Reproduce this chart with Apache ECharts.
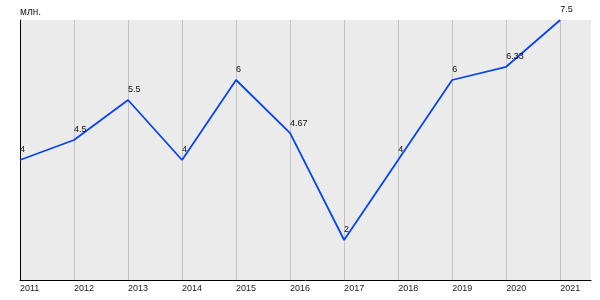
<!DOCTYPE html>
<html>
<head>
<meta charset="utf-8">
<script src="https://cdn.jsdelivr.net/npm/echarts@6/dist/echarts.min.js"></script>
<style>html,body{margin:0;padding:0;background:#fff}#c{width:600px;height:300px}</style>
</head>
<body>
<div id="c"></div>
<script>
const years = [2011, 2012, 2013, 2014, 2015, 2016, 2017, 2018, 2019, 2020, 2021];
const values = [4, 4.5, 5.5, 4, 6, 4.67, 2, 4, 6, 6.33, 7.5];
const labels = ['4', '4.5', '5.5', '4', '6', '4.67', '2', '4', '6', '6.33', '7.5'];
const unitName = 'млн.';

const chart = echarts.init(document.getElementById('c'), null, {renderer: 'canvas'});
const font = 'Liberation Sans, Arial, sans-serif';
chart.setOption({
  animation: false,
  grid: {left: 20, right: 9, top: 20, bottom: 20, show: true, backgroundColor: '#ebebeb', borderWidth: 0},
  xAxis: {
    type: 'value', min: 2011, max: 2021.57, interval: 1,
    axisLine: {show: true, onZero: false, lineStyle: {color: '#000', width: 1}},
    axisTick: {show: false},
    axisLabel: {showMaxLabel: false, align: 'left', margin: 4, color: '#222', fontSize: 9, fontFamily: font,
      formatter: v => String(Math.round(v))},
    splitLine: {show: true, showMaxLine: false, lineStyle: {color: '#c4c4c4', width: 1}}
  },
  yAxis: {
    type: 'value', min: 1, max: 7.5,
    name: unitName, nameLocation: 'end', nameGap: 3,
    nameTextStyle: {align: 'left', verticalAlign: 'bottom', color: '#222', fontSize: 10, fontFamily: font},
    axisLine: {show: true, onZero: false, lineStyle: {color: '#000', width: 1}},
    axisTick: {show: false},
    axisLabel: {show: false},
    splitLine: {show: false}
  },
  series: [{
    type: 'line',
    data: years.map((y, i) => [y, values[i]]),
    showSymbol: true,
    symbol: 'circle',
    symbolSize: 1,
    clip: false,
    itemStyle: {color: 'rgba(10,79,240,0)', borderWidth: 0},
    lineStyle: {color: '#0646f0', width: 1.8},
    label: {show: true, position: 'top', align: 'left', distance: 5, color: '#111', opacity: 1, fontSize: 9, fontFamily: font,
      formatter: p => labels[p.dataIndex]}
  }]
});
</script>
</body>
</html>
